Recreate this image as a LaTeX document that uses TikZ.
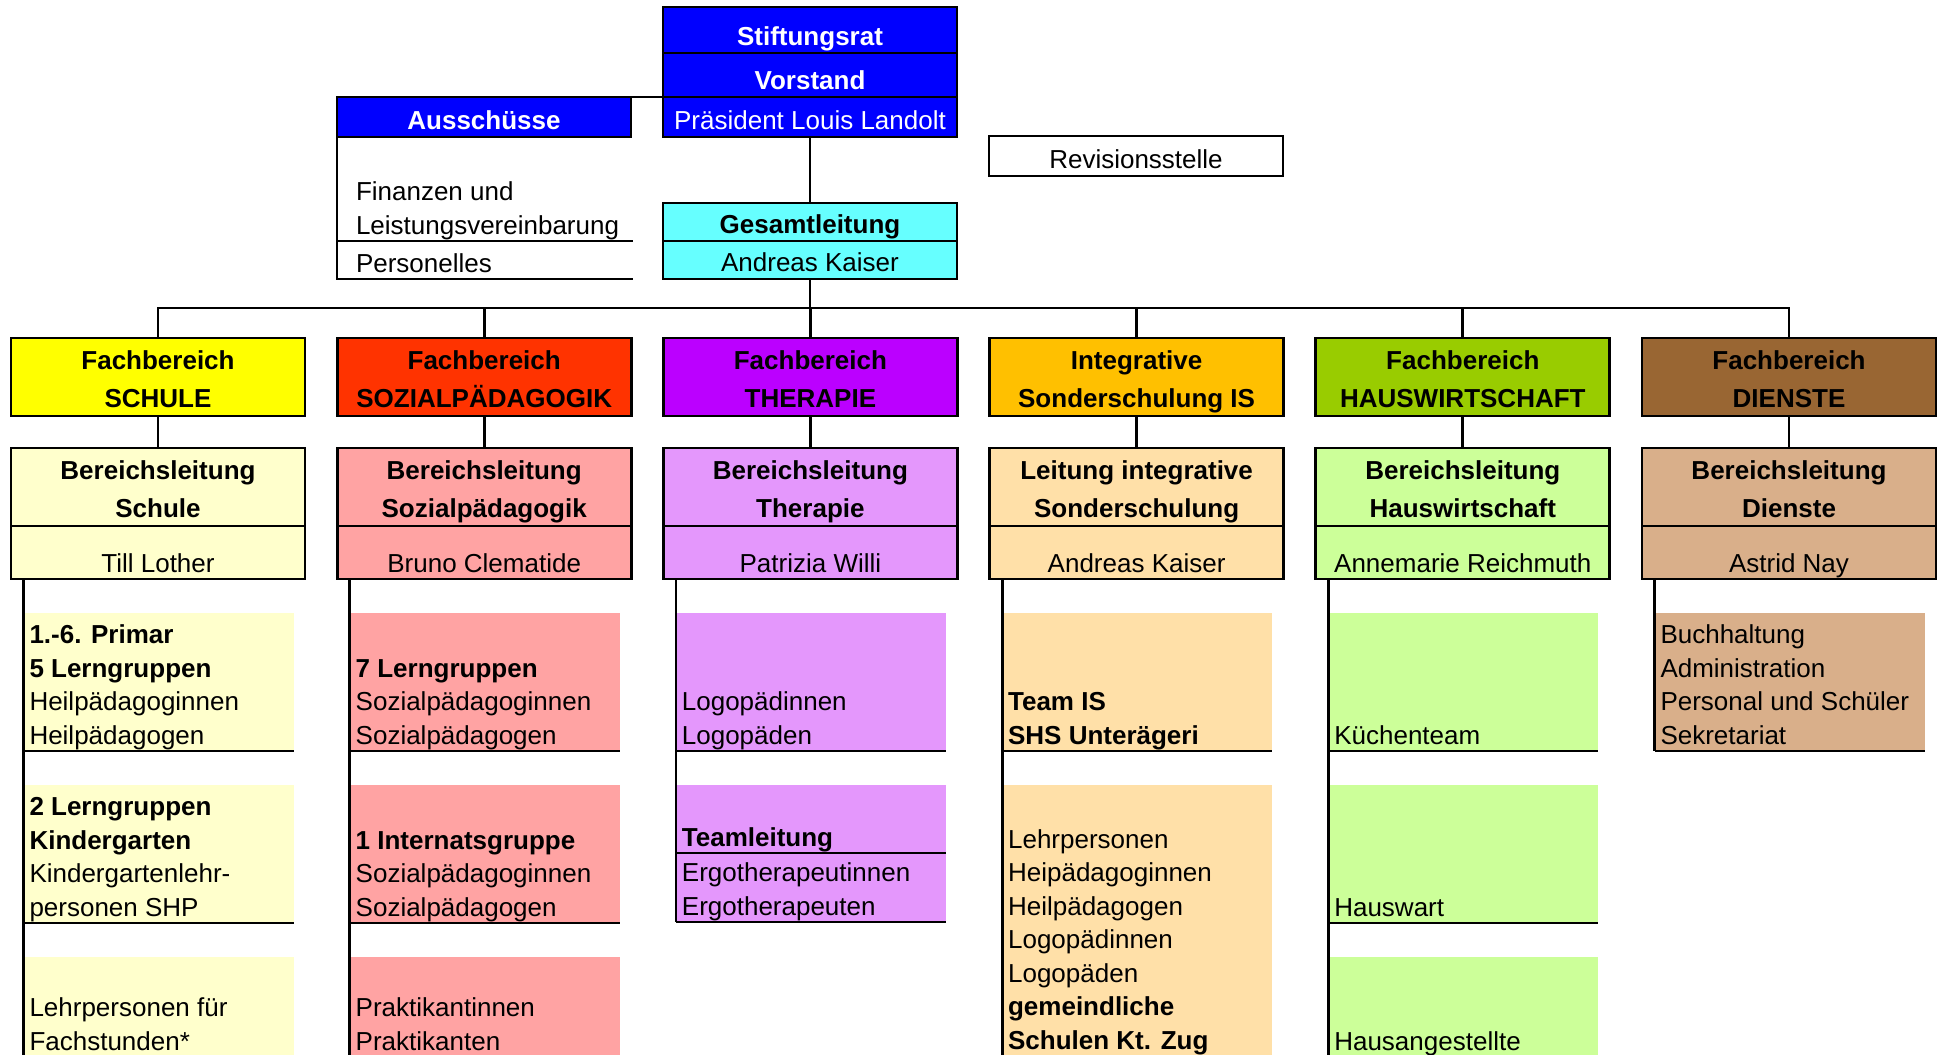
\documentclass[tikz,border=0pt]{standalone}
\usepackage{fontspec}
\setmainfont{Liberation Sans}
\usepackage{xcolor}
\definecolor{board}{HTML}{0000FF}
\definecolor{mgmt}{HTML}{66FFFF}
\definecolor{schD}{HTML}{FFFF00}
\definecolor{schL}{HTML}{FFFFCC}
\definecolor{sozD}{HTML}{FF3300}
\definecolor{sozL}{HTML}{FFA3A3}
\definecolor{thD}{HTML}{BB00FF}
\definecolor{thL}{HTML}{E497FC}
\definecolor{isD}{HTML}{FFC000}
\definecolor{isL}{HTML}{FFE0A8}
\definecolor{hwD}{HTML}{99CC00}
\definecolor{hwL}{HTML}{CCFF99}
\definecolor{dnD}{HTML}{996633}
\definecolor{dnL}{HTML}{D9AF8A}
\usepackage{tikz}
\usetikzlibrary{positioning}
\newcommand{\grp}[1]{\parbox[b]{129pt}{\raggedright\hyphenpenalty=10000 #1}}

\begin{document}
\fontsize{13}{16.75}\selectfont
\begin{tikzpicture}[x=0.5pt, y=-0.5pt, line width=1.4pt,
  every node/.style={inner sep=0pt, outer sep=0pt},
  cell/.style={draw, minimum width=147pt, text depth=4pt},
  head/.style={draw, minimum width=147pt, align=center,
    font=\fontsize{13}{19}\selectfont\bfseries,
    text height=34.7pt, text depth=4.3pt},
  namecell/.style={draw, minimum width=147pt, text height=23pt, text depth=3.5pt},
  grp/.style={anchor=north west, inner xsep=3pt, text depth=3.5pt}]
  \useasboundingbox (0,0) rectangle (1939,1055);
  \clip (0,0) rectangle (1939,1055);

  % Stiftungsrat and Vorstand
  \node[cell, fill=board, text=white, font=\bfseries, text height=19pt, anchor=north west] (stift) at (663,7) {Stiftungsrat};
  \node[cell, fill=board, text=white, font=\bfseries, text height=18pt, below=0pt of stift] (vorst) {Vorstand};
  \node[cell, fill=board, text=white, text height=16pt, below=0pt of vorst] (praes) {Präsident Louis Landolt};

  % Ausschuesse
  \node[cell, fill=board, text=white, font=\bfseries, text height=16pt, anchor=north west] (aussch) at (337,97) {Ausschüsse};
  \node[grp, inner xsep=9.5pt, text height=48.5pt] (fin) at (337,137) {\grp{Finanzen und\\Leistungsvereinbarung}};
  \node[grp, inner xsep=9.5pt, text height=15.5pt, below=0pt of fin] (pers) {\grp{Personelles}};
  \draw (aussch.north east) -- (vorst.south west);
  \draw (fin.north west) -- (pers.south west) -- (pers.south east);
  \draw (fin.south west) -- (fin.south east);

  % Revisionsstelle
  \node[cell, text height=16pt, anchor=north west] (revis) at (989,136) {Revisionsstelle};

  % Gesamtleitung
  \node[cell, fill=mgmt, font=\bfseries, text height=15pt, anchor=north west] (ges) at (663,203) {Gesamtleitung};
  \node[cell, fill=mgmt, text height=15pt, below=0pt of ges] (kaiser) {Andreas Kaiser};
  \draw (praes.south) -- (ges.north);

  % Fachbereiche
  \foreach \i/\fbc/\blc/\hd/\ld/\wh in {
    1/schD/schL/{Fachbereich\\SCHULE}/{Bereichsleitung\\Schule}/{Till Lother},
    2/sozD/sozL/{Fachbereich\\SOZIALPÄDAGOGIK}/{Bereichsleitung\\Sozialpädagogik}/{Bruno Clematide},
    3/thD/thL/{Fachbereich\\THERAPIE}/{Bereichsleitung\\Therapie}/{Patrizia Willi},
    4/isD/isL/{Integrative\\Sonderschulung IS}/{Leitung integrative\\Sonderschulung}/{Andreas Kaiser},
    5/hwD/hwL/{Fachbereich\\HAUSWIRTSCHAFT}/{Bereichsleitung\\Hauswirtschaft}/{Annemarie Reichmuth},
    6/dnD/dnL/{Fachbereich\\DIENSTE}/{Bereichsleitung\\Dienste}/{Astrid Nay}}
  {
    \node[head, fill=\fbc, anchor=north west] (fb\i) at ({11+326.2*(\i-1)},338) {\hd};
    \node[head, fill=\blc, below=16pt of fb\i] (bl\i) {\ld};
    \node[namecell, fill=\blc, below=0pt of bl\i] (nm\i) {\wh};
    \draw (fb\i.south) -- (bl\i.north);
  }

  % Verbindungen
  \coordinate (busy) at (0,308);
  \draw (kaiser.south) -- (kaiser.south |- busy);
  \draw (fb1.north) -- (fb1.north |- busy) -- (fb6.north |- busy) -- (fb6.north);
  \foreach \i in {2,...,5} \draw (fb\i.north) -- (fb\i.north |- busy);

  % Schule
  \node[grp, fill=schL, text height=65.5pt] (s1) at ([shift={(6.25pt,-17pt)}]nm1.south west) {\grp{\textbf{1.-6. Primar}\\\textbf{5 Lerngruppen}\\Heilpädagoginnen\\Heilpädagogen}};
  \node[grp, fill=schL, text height=65.5pt, below=17pt of s1] (s2) {\grp{\textbf{2 Lerngruppen}\\\textbf{Kindergarten}\\Kindergartenlehr-\\personen SHP}};
  \node[grp, fill=schL, text height=46.5pt, below=17pt of s2] (s3) {\grp{Lehrpersonen für\\Fachstunden*}};

  % Sozialpaedagogik
  \node[grp, fill=sozL, text height=65.5pt] (z1) at ([shift={(6.25pt,-17pt)}]nm2.south west) {\grp{\textbf{7 Lerngruppen}\\Sozialpädagoginnen\\Sozialpädagogen}};
  \node[grp, fill=sozL, text height=65.5pt, below=17pt of z1] (z2) {\grp{\textbf{1 Internatsgruppe}\\Sozialpädagoginnen\\Sozialpädagogen}};
  \node[grp, fill=sozL, text height=46.5pt, below=17pt of z2] (z3) {\grp{Praktikantinnen\\Praktikanten}};

  % Therapie
  \node[grp, fill=thL, text height=65.5pt] (t1) at ([shift={(6.25pt,-17pt)}]nm3.south west) {\grp{Logopädinnen\\Logopäden}};
  \node[grp, fill=thL, text height=30.5pt, below=17pt of t1] (t2) {\grp{\textbf{Teamleitung}}};
  \node[grp, fill=thL, text height=31pt, below=0pt of t2] (t3) {\grp{Ergotherapeutinnen\\Ergotherapeuten}};

  % Integrative Sonderschulung
  \node[grp, fill=isL, text height=65.5pt] (i1) at ([shift={(6.25pt,-17pt)}]nm4.south west) {\grp{\textbf{Team IS}\\\textbf{SHS Unterägeri}}};
  \node[grp, fill=isL, text height=132pt, below=17pt of i1] (i2) {\grp{Lehrpersonen\\Heipädagoginnen\\Heilpädagogen\\Logopädinnen\\Logopäden\\\textbf{gemeindliche}\\\textbf{Schulen Kt. Zug}}};

  % Hauswirtschaft
  \node[grp, fill=hwL, text height=65.5pt] (h1) at ([shift={(6.25pt,-17pt)}]nm5.south west) {\grp{Küchenteam}};
  \node[grp, fill=hwL, text height=65.5pt, below=17pt of h1] (h2) {\grp{Hauswart}};
  \node[grp, fill=hwL, text height=46.5pt, below=17pt of h2] (h3) {\grp{Hausangestellte}};

  % Dienste
  \node[grp, fill=dnL, text height=65.5pt] (d1) at ([shift={(6.25pt,-17pt)}]nm6.south west) {\grp{Buchhaltung\\Administration\\Personal und Schüler\\Sekretariat}};

  % Linien der Gruppen
  \draw (s1.north west |- nm1.south) -- (s3.south west);
  \draw (z1.north west |- nm2.south) -- (z3.south west);
  \draw (t1.north west |- nm3.south) -- (t3.south west);
  \draw (i1.north west |- nm4.south) -- (i2.south west);
  \draw (h1.north west |- nm5.south) -- (h3.south west);
  \draw (d1.north west |- nm6.south) -- (d1.south west);
  \foreach \b in {s1,s2,z1,z2,t1,t2,t3,i1,h1,h2,d1}
    \draw (\b.south west) -- (\b.south east);
\end{tikzpicture}
\end{document}
